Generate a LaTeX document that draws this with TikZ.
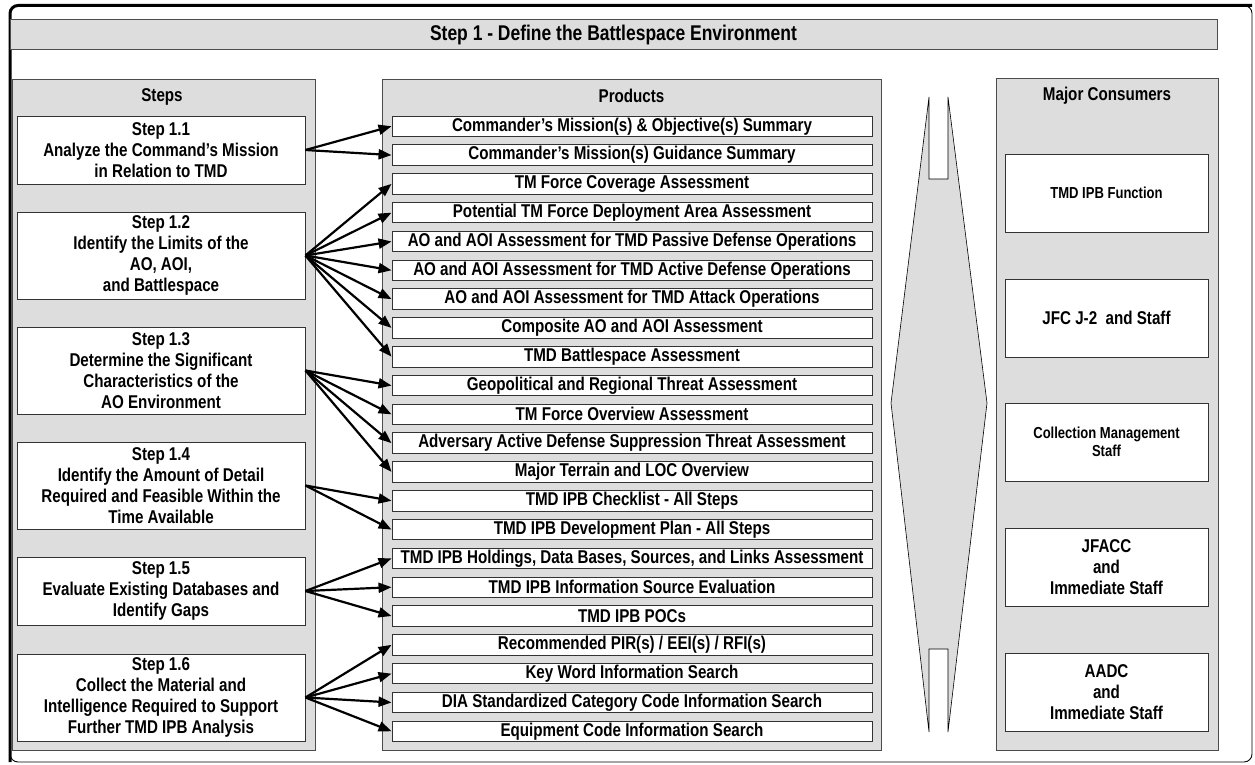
\documentclass[tikz,border=0pt]{standalone}
\usepackage{fontspec}
\setmainfont{Liberation Sans}[FakeStretch=0.82]
\usetikzlibrary{arrows.meta}

\definecolor{panelgray}{HTML}{DDDDDD}
\newcommand{\mainfnt}{\bfseries\fontsize{18.5}{20.8}\selectfont}
\newcommand{\smallfnt}{\bfseries\fontsize{15.9}{18}\selectfont}

\tikzset{
  panel/.style={draw=black!70, fill=panelgray, line width=0.9pt},
  header/.style={font=\mainfnt, inner sep=0pt},
  stepbox/.style={draw=black!80, fill=white, line width=0.9pt, inner sep=0pt,
    minimum width=288pt, align=center, font=\mainfnt},
  prodbox/.style={draw=black!80, fill=white, line width=0.9pt, inner sep=0pt,
    minimum width=480pt, minimum height=20.5pt, font=\mainfnt},
  conbox/.style={draw=black!80, fill=white, line width=0.9pt, inner sep=0pt,
    minimum width=203pt, minimum height=78pt, align=center, font=\mainfnt},
  feed/.style={line width=2.2pt, -{Triangle[length=13pt,width=10pt]}}
}

\begin{document}
\begin{tikzpicture}[x=1pt,y=-1pt]
\useasboundingbox (0,0) rectangle (1255,765);

% frame
\draw[line width=0.9pt, rounded corners=8pt] (10,5.5) rectangle (1252,762);
\draw[line width=3pt, rounded corners=8pt] (10,762) -- (10,5.5) -- (1252,5.5);

\node (title) [draw=black!70, fill=panelgray, line width=0.9pt, minimum width=1207pt,
  minimum height=30pt, inner sep=0pt, font=\bfseries\fontsize{21.3}{24}\selectfont]
  at (613.5,34.5) {Step 1 - Define the Battlespace Environment};

% panels
\draw[panel] (12,79) rectangle (315,750);
\draw[panel] (382,79) rectangle (881,750);
\draw[panel] (996,78) rectangle (1218,750);

\node (hsteps) [header] at (162,97) {Steps};
\node (hprod) [header] at (631.5,96) {Products};
\node (hcons) [header] at (1107,96) {Major Consumers};

% steps
\node (s1) [stepbox, minimum height=68pt] at (161,150)
  {Step 1.1\\Analyze the Command’s Mission\\in Relation to TMD};
\node (s2) [stepbox, minimum height=87pt] at (161,255.5)
  {Step 1.2\\Identify the Limits of the\\AO, AOI,\\and Battlespace};
\node (s3) [stepbox, minimum height=87pt] at (161,370.5)
  {Step 1.3\\Determine the Significant\\Characteristics of the\\AO Environment};
\node (s4) [stepbox, minimum height=87pt] at (161,485.5)
  {Step 1.4\\Identify the Amount of Detail\\Required and Feasible Within the\\Time Available};
\node (s5) [stepbox, minimum height=68pt] at (161,591)
  {Step 1.5\\Evaluate Existing Databases and\\Identify Gaps};
\node (s6) [stepbox, minimum height=87pt] at (161,697.5)
  {Step 1.6\\Collect the Material and\\Intelligence Required to Support\\Further TMD IPB Analysis};

% products
\foreach \txt [count=\i] in {
  Commander’s Mission(s) \& Objective(s) Summary,
  Commander’s Mission(s) Guidance Summary,
  TM Force Coverage Assessment,
  Potential TM Force Deployment Area Assessment,
  AO and AOI Assessment for TMD Passive Defense Operations,
  AO and AOI Assessment for TMD Active Defense Operations,
  AO and AOI Assessment for TMD Attack Operations,
  Composite AO and AOI Assessment,
  TMD Battlespace Assessment,
  Geopolitical and Regional Threat Assessment,
  TM Force Overview Assessment,
  Adversary Active Defense Suppression Threat Assessment,
  Major Terrain and LOC Overview,
  TMD IPB Checklist - All Steps,
  TMD IPB Development Plan - All Steps,
  {TMD IPB Holdings, Data Bases, Sources, and Links Assessment},
  TMD IPB Information Source Evaluation,
  TMD IPB POCs,
  Recommended PIR(s) / EEI(s) / RFI(s),
  Key Word Information Search,
  DIA Standardized Category Code Information Search,
  Equipment Code Information Search}
  \node (p\i) [prodbox] at (632,{126.25+(\i-1)*28.81}) {\txt};

% funnel
\draw[fill=panelgray, line width=0.6pt] (891,403) -- (929,97) -- (929,179) -- (948,179)
  -- (948,97) -- (987,403) -- (948,732) -- (948,649) -- (929,649) -- (929,732) -- cycle;

% consumers
\node (c1) [conbox, font=\smallfnt] at (1106.5,193) {TMD IPB Function};
\node (c2) [conbox] at (1106.5,318) {JFC J-2 ~and Staff};
\node (c3) [conbox, font=\smallfnt] at (1106.5,442) {Collection Management\\Staff};
\node (c4) [conbox] at (1106.5,567) {JFACC\\and\\Immediate Staff};
\node (c5) [conbox] at (1106.5,692) {AADC\\and\\Immediate Staff};

% connectors
\foreach \p in {1,2} \draw[feed] (s1.east) -- (p\p.west);
\foreach \p in {3,...,9} \draw[feed] (s2.east) -- (p\p.west);
\foreach \p in {10,...,13} \draw[feed] (s3.east) -- (p\p.west);
\foreach \p in {14,15} \draw[feed] (s4.east) -- (p\p.west);
\foreach \p in {16,17,18} \draw[feed] (s5.east) -- (p\p.west);
\foreach \p in {19,...,22} \draw[feed] (s6.east) -- (p\p.west);

\end{tikzpicture}
\end{document}
